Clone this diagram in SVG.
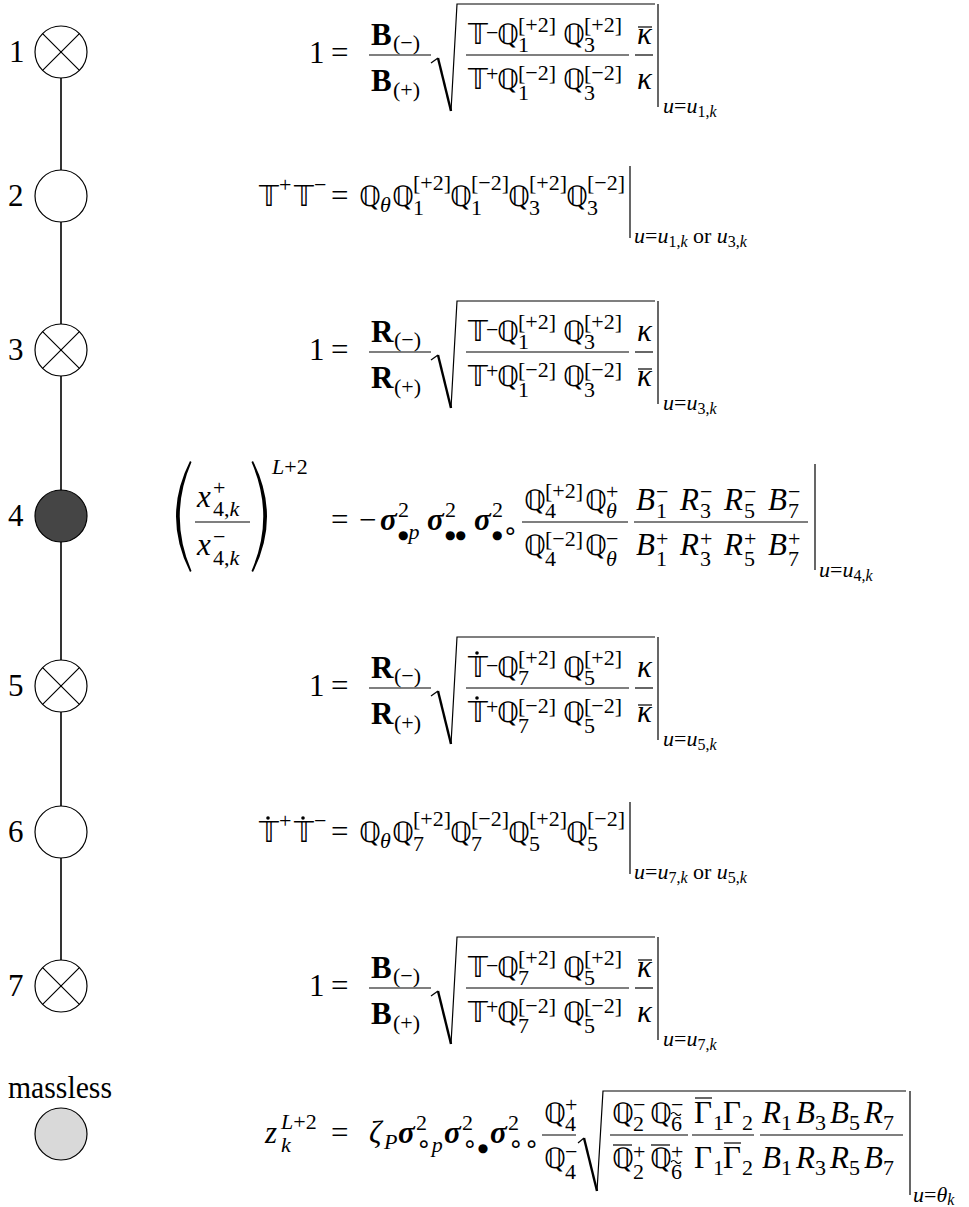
<svg xmlns="http://www.w3.org/2000/svg" width="969" height="1207" viewBox="0 0 969 1207">
<style>
.t{font-family:"Liberation Serif","DejaVu Serif",serif;font-size:31px;fill:#000}
.s{font-size:22px}
.ss{font-size:16px}
.i{font-style:italic}
.bf{font-weight:bold}
.bb{font-family:"DejaVu Sans",sans-serif;font-size:28px;fill:#000}
.dot{font-family:"DejaVu Sans",sans-serif;font-style:normal;font-size:12px}
.ring{font-family:"DejaVu Sans",sans-serif;font-style:normal;font-size:25px}
.ln{stroke:#000;stroke-width:1.2;fill:none}
.th{stroke:#000;stroke-width:2.4;fill:none}
.nd{stroke:#000;stroke-width:1.2}
</style>
<rect width="969" height="1207" fill="#fff"/>
<g id="connectors">
<line x1="61" y1="52" x2="61" y2="986" stroke="#000" stroke-width="1.6"/>
</g>
<g id="node1"><circle cx="61" cy="52" r="26" class="nd" fill="#fff"/><path class="ln" d="M42.6,33.6 L79.4,70.4 M79.4,33.6 L42.6,70.4"/><text class="t" x="9" y="62">1</text></g>
<g id="node2"><circle cx="61" cy="196" r="26" class="nd" fill="#fff"/><text class="t" x="8" y="206">2</text></g>
<g id="node3"><circle cx="61" cy="350" r="26" class="nd" fill="#fff"/><path class="ln" d="M42.6,331.6 L79.4,368.4 M79.4,331.6 L42.6,368.4"/><text class="t" x="8" y="360">3</text></g>
<g id="node4"><circle cx="61" cy="516" r="26" class="nd" fill="#454545"/><text class="t" x="8" y="526">4</text></g>
<g id="node5"><circle cx="61" cy="686" r="26" class="nd" fill="#fff"/><path class="ln" d="M42.6,667.6 L79.4,704.4 M79.4,667.6 L42.6,704.4"/><text class="t" x="8" y="696">5</text></g>
<g id="node6"><circle cx="61" cy="832" r="26" class="nd" fill="#fff"/><text class="t" x="8" y="842">6</text></g>
<g id="node7"><circle cx="61" cy="986" r="26" class="nd" fill="#fff"/><path class="ln" d="M42.6,967.6 L79.4,1004.4 M79.4,967.6 L42.6,1004.4"/><text class="t" x="8" y="996">7</text></g>
<g id="node-massless"><text class="t" x="8" y="1098" textLength="104" lengthAdjust="spacingAndGlyphs">massless</text><circle cx="61" cy="1134" r="26" class="nd" fill="#d9d9d9"/></g>

<g id="eq1" transform="translate(0,55)">
<text class="t" x="309" y="8">1</text><text class="t" x="331" y="8">=</text>
<line class="ln" x1="369" y1="0" x2="431" y2="0"/>
<text class="t bf" x="371" y="-10">B</text><text class="t s" x="393" y="-5">(−)</text>
<text class="t bf" x="371" y="36">B</text><text class="t s" x="393" y="42">(+)</text>
<path class="ln" d="M431,8 L438,3"/><path class="th" d="M438,3 L451,56"/><path class="ln" d="M451,56 L457,-51 H655"/>
<text class="bb" x="468" y="-11">𝕋</text><text class="t s" x="486" y="-15">−</text>
<text class="bb" x="497" y="-11">ℚ</text><text class="t s" x="518" y="-23">[+2]</text><text class="t s" x="518" y="-3">1</text>
<text class="bb" x="563" y="-11">ℚ</text><text class="t s" x="584" y="-23">[+2]</text><text class="t s" x="584" y="-3">3</text>
<line class="ln" x1="466" y1="0" x2="629" y2="0"/>
<text class="bb" x="468" y="34">𝕋</text><text class="t s" x="486" y="26">+</text>
<text class="bb" x="497" y="34">ℚ</text><text class="t s" x="518" y="25">[−2]</text><text class="t s" x="518" y="45">1</text>
<text class="bb" x="563" y="34">ℚ</text><text class="t s" x="584" y="25">[−2]</text><text class="t s" x="584" y="45">3</text>
<line class="ln" x1="635" y1="0" x2="653" y2="0"/>
<text class="t i" x="637" y="-11">κ</text><line class="ln" x1="638" y1="-28" x2="652" y2="-28"/>
<text class="t i" x="637" y="34">κ</text>
<line class="ln" x1="658" y1="-51" x2="658" y2="52"/>
<text class="t s" x="663" y="58"><tspan class="i">u</tspan>=<tspan class="i">u</tspan><tspan class="ss" dy="4">1,</tspan><tspan class="ss i">k</tspan></text>
</g>

<g id="eq2" transform="translate(0,198)">
<text class="bb" x="259" y="8">𝕋</text><text class="t s" x="279" y="-6">+</text>
<text class="bb" x="294" y="8">𝕋</text><text class="t s" x="314" y="-6">−</text>
<text class="t" x="331" y="8">=</text>
<text class="bb" x="359" y="8">ℚ</text><text class="t s i" x="380" y="14">θ</text>
<text class="bb" x="392" y="8">ℚ</text><text class="t s" x="413" y="-8">[+2]</text><text class="t s" x="413" y="17">1</text>
<text class="bb" x="450" y="8">ℚ</text><text class="t s" x="471" y="-8">[−2]</text><text class="t s" x="471" y="17">1</text>
<text class="bb" x="508" y="8">ℚ</text><text class="t s" x="529" y="-8">[+2]</text><text class="t s" x="529" y="17">3</text>
<text class="bb" x="566" y="8">ℚ</text><text class="t s" x="587" y="-8">[−2]</text><text class="t s" x="587" y="17">3</text>
<line class="ln" x1="630" y1="-32" x2="630" y2="40"/>
<text class="t s" x="634" y="45"><tspan class="i">u</tspan>=<tspan class="i">u</tspan><tspan class="ss" dy="4">1,</tspan><tspan class="ss i">k</tspan><tspan dy="-4"> or </tspan><tspan class="i">u</tspan><tspan class="ss" dy="4">3,</tspan><tspan class="ss i">k</tspan></text>
</g>

<g id="eq3" transform="translate(0,352)">
<text class="t" x="309" y="8">1</text><text class="t" x="331" y="8">=</text>
<line class="ln" x1="369" y1="0" x2="431" y2="0"/>
<text class="t bf" x="371" y="-10">R</text><text class="t s" x="394" y="-5">(−)</text>
<text class="t bf" x="371" y="36">R</text><text class="t s" x="394" y="42">(+)</text>
<path class="ln" d="M431,8 L438,3"/><path class="th" d="M438,3 L451,56"/><path class="ln" d="M451,56 L457,-51 H655"/>
<text class="bb" x="468" y="-11">𝕋</text><text class="t s" x="486" y="-15">−</text>
<text class="bb" x="497" y="-11">ℚ</text><text class="t s" x="518" y="-23">[+2]</text><text class="t s" x="518" y="-3">1</text>
<text class="bb" x="563" y="-11">ℚ</text><text class="t s" x="584" y="-23">[+2]</text><text class="t s" x="584" y="-3">3</text>
<line class="ln" x1="466" y1="0" x2="629" y2="0"/>
<text class="bb" x="468" y="34">𝕋</text><text class="t s" x="486" y="26">+</text>
<text class="bb" x="497" y="34">ℚ</text><text class="t s" x="518" y="25">[−2]</text><text class="t s" x="518" y="45">1</text>
<text class="bb" x="563" y="34">ℚ</text><text class="t s" x="584" y="25">[−2]</text><text class="t s" x="584" y="45">3</text>
<line class="ln" x1="635" y1="0" x2="653" y2="0"/>
<text class="t i" x="637" y="-11">κ</text>
<text class="t i" x="637" y="34">κ</text><line class="ln" x1="638" y1="17" x2="652" y2="17"/>
<line class="ln" x1="658" y1="-51" x2="658" y2="52"/>
<text class="t s" x="663" y="58"><tspan class="i">u</tspan>=<tspan class="i">u</tspan><tspan class="ss" dy="4">3,</tspan><tspan class="ss i">k</tspan></text>
</g>

<g id="eq4" transform="translate(0,522)">
<path d="M190,-61 Q162,-5.5 190,50 L191.5,49 Q168,-5.5 191.5,-60 Z" fill="#000"/>
<path d="M253,-61 Q281,-5.5 253,50 L251.5,49 Q275,-5.5 251.5,-60 Z" fill="#000"/>
<line class="ln" x1="195" y1="0" x2="250" y2="0"/>
<text class="t i" x="197" y="-15">x</text><text class="t s" x="213" y="-27">+</text><text class="t s" x="213" y="-6">4,<tspan class="i">k</tspan></text>
<text class="t i" x="197" y="33">x</text><text class="t s" x="213" y="22">−</text><text class="t s" x="213" y="43">4,<tspan class="i">k</tspan></text>
<text class="t s" x="272" y="-48"><tspan class="i">L</tspan>+2</text>
<text class="t" x="331" y="8">=</text>
<text class="t" x="359" y="8">−</text>
<text class="t bf i" x="380" y="8">σ</text><text class="t s" x="398" y="-5">2</text><text class="t s" x="398" y="17"><tspan class="dot">●</tspan><tspan class="i">p</tspan></text>
<text class="t bf i" x="427" y="8">σ</text><text class="t s" x="445" y="-5">2</text><text class="t s" x="445" y="17"><tspan class="dot">●●</tspan></text>
<text class="t bf i" x="474" y="8">σ</text><text class="t s" x="492" y="-5">2</text><text class="t s" x="492" y="17"><tspan class="dot">●</tspan><tspan class="ring">∘</tspan></text>
<line class="ln" x1="522" y1="0" x2="628" y2="0"/>
<text class="bb" x="524" y="-12">ℚ</text><text class="t s" x="545" y="-24">[+2]</text><text class="t s" x="545" y="-4">4</text>
<text class="bb" x="585" y="-12">ℚ</text><text class="t s" x="606" y="-23">+</text><text class="t s i" x="606" y="-4">θ</text>
<text class="bb" x="524" y="33">ℚ</text><text class="t s" x="545" y="24">[−2]</text><text class="t s" x="545" y="44">4</text>
<text class="bb" x="585" y="33">ℚ</text><text class="t s" x="606" y="24">−</text><text class="t s i" x="606" y="44">θ</text>
<line class="ln" x1="634" y1="0" x2="808" y2="0"/>
<text class="t i" x="636" y="-12">B</text><text class="t s" x="656" y="-23">−</text><text class="t s" x="656" y="-4">1</text>
<text class="t i" x="680" y="-12">R</text><text class="t s" x="700" y="-23">−</text><text class="t s" x="700" y="-4">3</text>
<text class="t i" x="724" y="-12">R</text><text class="t s" x="744" y="-23">−</text><text class="t s" x="744" y="-4">5</text>
<text class="t i" x="768" y="-12">B</text><text class="t s" x="788" y="-23">−</text><text class="t s" x="788" y="-4">7</text>
<text class="t i" x="636" y="33">B</text><text class="t s" x="656" y="24">+</text><text class="t s" x="656" y="44">1</text>
<text class="t i" x="680" y="33">R</text><text class="t s" x="700" y="24">+</text><text class="t s" x="700" y="44">3</text>
<text class="t i" x="724" y="33">R</text><text class="t s" x="744" y="24">+</text><text class="t s" x="744" y="44">5</text>
<text class="t i" x="768" y="33">B</text><text class="t s" x="788" y="24">+</text><text class="t s" x="788" y="44">7</text>
<line class="ln" x1="815" y1="-58" x2="815" y2="48"/>
<text class="t s" x="819" y="55"><tspan class="i">u</tspan>=<tspan class="i">u</tspan><tspan class="ss" dy="4">4,</tspan><tspan class="ss i">k</tspan></text>
</g>

<g id="eq5" transform="translate(0,688)">
<text class="t" x="309" y="8">1</text><text class="t" x="331" y="8">=</text>
<line class="ln" x1="369" y1="0" x2="431" y2="0"/>
<text class="t bf" x="371" y="-10">R</text><text class="t s" x="394" y="-5">(−)</text>
<text class="t bf" x="371" y="36">R</text><text class="t s" x="394" y="42">(+)</text>
<path class="ln" d="M431,8 L438,3"/><path class="th" d="M438,3 L451,56"/><path class="ln" d="M451,56 L457,-51 H655"/>
<text class="bb" x="468" y="-11">𝕋</text><circle cx="477" cy="-35" r="1.8"/><text class="t s" x="486" y="-15">−</text>
<text class="bb" x="497" y="-11">ℚ</text><text class="t s" x="518" y="-23">[+2]</text><text class="t s" x="518" y="-3">7</text>
<text class="bb" x="563" y="-11">ℚ</text><text class="t s" x="584" y="-23">[+2]</text><text class="t s" x="584" y="-3">5</text>
<line class="ln" x1="466" y1="0" x2="629" y2="0"/>
<text class="bb" x="468" y="34">𝕋</text><circle cx="477" cy="10" r="1.8"/><text class="t s" x="486" y="26">+</text>
<text class="bb" x="497" y="34">ℚ</text><text class="t s" x="518" y="25">[−2]</text><text class="t s" x="518" y="45">7</text>
<text class="bb" x="563" y="34">ℚ</text><text class="t s" x="584" y="25">[−2]</text><text class="t s" x="584" y="45">5</text>
<line class="ln" x1="635" y1="0" x2="653" y2="0"/>
<text class="t i" x="637" y="-11">κ</text>
<text class="t i" x="637" y="34">κ</text><line class="ln" x1="638" y1="17" x2="652" y2="17"/>
<line class="ln" x1="658" y1="-51" x2="658" y2="52"/>
<text class="t s" x="663" y="58"><tspan class="i">u</tspan>=<tspan class="i">u</tspan><tspan class="ss" dy="4">5,</tspan><tspan class="ss i">k</tspan></text>
</g>

<g id="eq6" transform="translate(0,834)">
<text class="bb" x="259" y="8">𝕋</text><circle cx="268" cy="-16" r="1.8"/><text class="t s" x="279" y="-6">+</text>
<text class="bb" x="294" y="8">𝕋</text><circle cx="303" cy="-16" r="1.8"/><text class="t s" x="314" y="-6">−</text>
<text class="t" x="331" y="8">=</text>
<text class="bb" x="359" y="8">ℚ</text><text class="t s i" x="380" y="14">θ</text>
<text class="bb" x="392" y="8">ℚ</text><text class="t s" x="413" y="-8">[+2]</text><text class="t s" x="413" y="17">7</text>
<text class="bb" x="450" y="8">ℚ</text><text class="t s" x="471" y="-8">[−2]</text><text class="t s" x="471" y="17">7</text>
<text class="bb" x="508" y="8">ℚ</text><text class="t s" x="529" y="-8">[+2]</text><text class="t s" x="529" y="17">5</text>
<text class="bb" x="566" y="8">ℚ</text><text class="t s" x="587" y="-8">[−2]</text><text class="t s" x="587" y="17">5</text>
<line class="ln" x1="630" y1="-32" x2="630" y2="40"/>
<text class="t s" x="634" y="45"><tspan class="i">u</tspan>=<tspan class="i">u</tspan><tspan class="ss" dy="4">7,</tspan><tspan class="ss i">k</tspan><tspan dy="-4"> or </tspan><tspan class="i">u</tspan><tspan class="ss" dy="4">5,</tspan><tspan class="ss i">k</tspan></text>
</g>

<g id="eq7" transform="translate(0,988)">
<text class="t" x="309" y="8">1</text><text class="t" x="331" y="8">=</text>
<line class="ln" x1="369" y1="0" x2="431" y2="0"/>
<text class="t bf" x="371" y="-10">B</text><text class="t s" x="393" y="-5">(−)</text>
<text class="t bf" x="371" y="36">B</text><text class="t s" x="393" y="42">(+)</text>
<path class="ln" d="M431,8 L438,3"/><path class="th" d="M438,3 L451,56"/><path class="ln" d="M451,56 L457,-51 H655"/>
<text class="bb" x="468" y="-11">𝕋</text><text class="t s" x="486" y="-15">−</text>
<text class="bb" x="497" y="-11">ℚ</text><text class="t s" x="518" y="-23">[+2]</text><text class="t s" x="518" y="-3">7</text>
<text class="bb" x="563" y="-11">ℚ</text><text class="t s" x="584" y="-23">[+2]</text><text class="t s" x="584" y="-3">5</text>
<line class="ln" x1="466" y1="0" x2="629" y2="0"/>
<text class="bb" x="468" y="34">𝕋</text><text class="t s" x="486" y="26">+</text>
<text class="bb" x="497" y="34">ℚ</text><text class="t s" x="518" y="25">[−2]</text><text class="t s" x="518" y="45">7</text>
<text class="bb" x="563" y="34">ℚ</text><text class="t s" x="584" y="25">[−2]</text><text class="t s" x="584" y="45">5</text>
<line class="ln" x1="635" y1="0" x2="653" y2="0"/>
<text class="t i" x="637" y="-11">κ</text><line class="ln" x1="638" y1="-28" x2="652" y2="-28"/>
<text class="t i" x="637" y="34">κ</text>
<line class="ln" x1="658" y1="-51" x2="658" y2="52"/>
<text class="t s" x="663" y="58"><tspan class="i">u</tspan>=<tspan class="i">u</tspan><tspan class="ss" dy="4">7,</tspan><tspan class="ss i">k</tspan></text>
</g>

<g id="eq8" transform="translate(0,1135)">
<text class="t i" x="265" y="8">z</text><text class="t s" x="281" y="-6"><tspan class="i">L</tspan>+2</text><text class="t s i" x="281" y="17">k</text>
<text class="t" x="331" y="8">=</text>
<text class="t i" x="369" y="8">ζ</text><text class="t s i" x="384" y="14">P</text>
<text class="t bf i" x="398" y="8">σ</text><text class="t s" x="416" y="-5">2</text><text class="t s" x="416" y="17"><tspan class="ring">∘</tspan><tspan class="i">p</tspan></text>
<text class="t bf i" x="444" y="8">σ</text><text class="t s" x="462" y="-5">2</text><text class="t s" x="462" y="17"><tspan class="ring">∘</tspan><tspan class="dot">●</tspan></text>
<text class="t bf i" x="490" y="8">σ</text><text class="t s" x="508" y="-5">2</text><text class="t s" x="508" y="17"><tspan class="ring">∘∘</tspan></text>
<line class="ln" x1="542" y1="0" x2="576" y2="0"/>
<text class="bb" x="544" y="-12">ℚ</text><text class="t s" x="565" y="-23">+</text><text class="t s" x="565" y="-4">4</text>
<text class="bb" x="544" y="33">ℚ</text><text class="t s" x="565" y="24">−</text><text class="t s" x="565" y="44">4</text>
<path class="ln" d="M578,8 L584,3"/><path class="th" d="M584,3 L597,56"/><path class="ln" d="M597,56 L603,-44 H906"/>
<line class="ln" x1="610" y1="0" x2="688" y2="0"/>
<text class="bb" x="612" y="-12">ℚ</text><text class="t s" x="633" y="-23">−</text><text class="t s" x="633" y="-4">2</text>
<text class="bb" x="650" y="-12">ℚ</text><text class="t s" x="671" y="-23">−</text><text class="t s" x="671" y="-4">6</text><path class="ln" d="M671,-21 q2.5,-3 5,0 t5,0"/>
<text class="bb" x="612" y="33">ℚ</text><line class="ln" x1="613" y1="10" x2="632" y2="10"/><text class="t s" x="633" y="24">+</text><text class="t s" x="633" y="44">2</text>
<text class="bb" x="650" y="33">ℚ</text><line class="ln" x1="651" y1="10" x2="670" y2="10"/><text class="t s" x="671" y="24">+</text><text class="t s" x="671" y="44">6</text><path class="ln" d="M671,27 q2.5,-3 5,0 t5,0"/>
<line class="ln" x1="692" y1="0" x2="754" y2="0"/>
<text class="t" x="694" y="-12">Γ</text><line class="ln" x1="695" y1="-37" x2="712" y2="-37"/><text class="t s" x="713" y="-5">1</text>
<text class="t" x="723" y="-12">Γ</text><text class="t s" x="742" y="-5">2</text>
<text class="t" x="694" y="33">Γ</text><text class="t s" x="713" y="40">1</text>
<text class="t" x="723" y="33">Γ</text><line class="ln" x1="724" y1="8" x2="741" y2="8"/><text class="t s" x="742" y="40">2</text>
<line class="ln" x1="760" y1="0" x2="903" y2="0"/>
<text class="t i" x="762" y="-12">R</text><text class="t s" x="781" y="-5">1</text>
<text class="t i" x="796" y="-12">B</text><text class="t s" x="815" y="-5">3</text>
<text class="t i" x="830" y="-12">B</text><text class="t s" x="849" y="-5">5</text>
<text class="t i" x="864" y="-12">R</text><text class="t s" x="883" y="-5">7</text>
<text class="t i" x="762" y="33">B</text><text class="t s" x="781" y="40">1</text>
<text class="t i" x="796" y="33">R</text><text class="t s" x="815" y="40">3</text>
<text class="t i" x="830" y="33">R</text><text class="t s" x="849" y="40">5</text>
<text class="t i" x="864" y="33">B</text><text class="t s" x="883" y="40">7</text>
<line class="ln" x1="910" y1="-44" x2="910" y2="60"/>
<text class="t s" x="913" y="67"><tspan class="i">u</tspan>=<tspan class="i">θ</tspan><tspan class="ss i" dy="3">k</tspan></text>
</g>
</svg>
